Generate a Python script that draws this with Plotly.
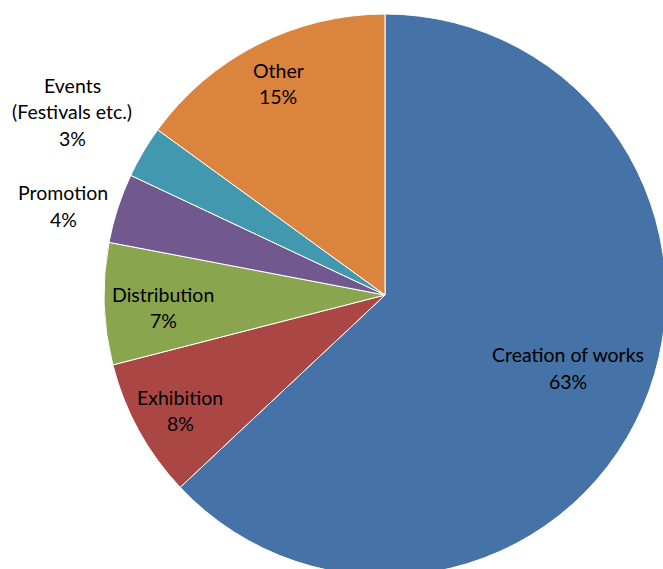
import plotly.graph_objects as go

categories = ["Creation of works", "Exhibition", "Distribution", "Promotion",
              "Events (Festivals etc.)", "Other"]
values = [63, 8, 7, 4, 3, 15]
colors = ["#4572A7", "#AA4643", "#89A54E", "#71588F", "#4198AF", "#DB843D"]

# label text lines per slice (text only)
label_lines = [["Creation of works"], ["Exhibition"], ["Distribution"], ["Promotion"],
               ["Events", "(Festivals etc.)"], ["Other"]]
# label anchor (centre x px, first-line y px) in the frame
label_pos = [(568, 355), (180, 397), (163, 294), (63, 193), (72, 85), (278, 70)]
LINE = 26.5

# figure is slightly larger than the window so the pie is clipped like the reference
W, H = 670, 580
CX, CY, R = 385, 295, 281

fig = go.Figure()
fig.add_trace(go.Pie(
    labels=categories, values=values, sort=False, direction="clockwise",
    rotation=0, textinfo="none", hoverinfo="label+percent",
    marker=dict(colors=colors, line=dict(color="white", width=1)),
    domain=dict(x=[(CX - R) / W, (CX + R) / W], y=[1 - (CY + R) / H, 1 - (CY - R) / H]),
    showlegend=False,
))

total = sum(values)
for lines, (cx, y0), v in zip(label_lines, label_pos, values):
    texts = lines + [f"{round(100 * v / total)}%"]
    for i, t in enumerate(texts):
        fig.add_annotation(x=cx / W, y=1 - (y0 + i * LINE) / H, xref="paper", yref="paper",
                           text=t, showarrow=False, xanchor="center", yanchor="middle",
                           font=dict(family="Lato", size=19.5, color="black"))

fig.update_layout(width=W, height=H, autosize=False,
                  margin=dict(l=0, r=0, t=0, b=0), paper_bgcolor="white",
                  plot_bgcolor="white")
fig.write_html("out.html", config={"displayModeBar": False},
               post_script="document.body.style.margin='0';"
                           "document.body.style.overflow='hidden';"
                           "document.documentElement.style.overflow='hidden';")
